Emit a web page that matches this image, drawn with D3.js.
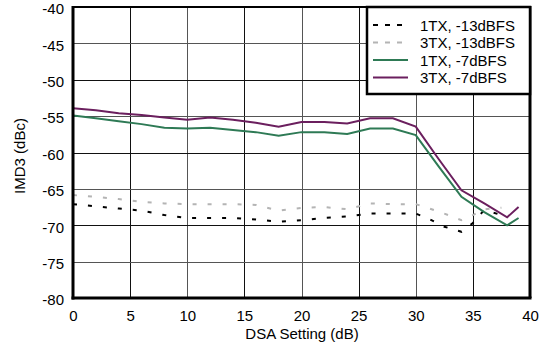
<!DOCTYPE html>
<html><head><meta charset="utf-8">
<script src="https://cdn.jsdelivr.net/npm/d3@7"></script>
<style>body{margin:0;background:#fff}svg text{font-family:"Liberation Sans",Arial,sans-serif}</style>
</head><body><svg id="c" width="543" height="347"></svg>
<script>
const xTicks = [0,5,10,15,20,25,30,35,40];
const yTicks = [-40,-45,-50,-55,-60,-65,-70,-75,-80];
const seriesNames = ["1TX, -13dBFS","3TX, -13dBFS","1TX, -7dBFS","3TX, -7dBFS"];
const xSolid = [0,2,4,6,8,10,12,14,16,18,20,22,24,26,28,30,32,34,36,38,39];
const tx3m7 = [-53.9,-54.2,-54.6,-54.85,-55.2,-55.5,-55.2,-55.5,-55.9,-56.45,-55.8,-55.8,-56.0,-55.3,-55.3,-56.45,-60.9,-65.2,-67.0,-68.9,-67.5];
const tx1m7 = [-54.9,-55.3,-55.7,-56.1,-56.6,-56.7,-56.6,-56.9,-57.2,-57.7,-57.2,-57.2,-57.45,-56.7,-56.7,-57.6,-61.9,-66.1,-68.2,-70.0,-69.0];
const xDash = [0,2,4,6,8,10,12,14,16,18,20,22,24,26,28,30,31,32.5,34,35,36,37.5];
const tx1m13 = [-67.1,-67.4,-67.7,-68.0,-68.6,-69.0,-69.0,-69.0,-69.2,-69.5,-69.3,-69.0,-68.8,-68.4,-68.4,-68.4,-69.0,-70.2,-70.9,-69.7,-67.9,-68.6];
const tx3m13 = [-65.85,-66.1,-66.4,-66.8,-67.0,-67.1,-67.1,-67.1,-67.2,-68.0,-67.6,-67.5,-67.8,-67.0,-67.1,-67.1,-67.6,-68.4,-69.3,-68.6,-67.8,-67.6];

const svg = d3.select("#c");
const L=73,R=530,T=7,B=298;
const x = d3.scaleLinear().domain([0,40]).range([L,R]);
const y = d3.scaleLinear().domain([-80,-40]).range([B,T]);
const FS = 15;

// grid
const g = svg.append("g");
g.selectAll(".vg").data(xTicks.slice(1,-1)).enter().append("line")
 .attr("x1",d=>Math.round(x(d))+0.5).attr("x2",d=>Math.round(x(d))+0.5).attr("y1",T).attr("y2",B)
 .attr("stroke",(d,i)=>i%2?"#555":"#111").attr("stroke-width",1);
g.selectAll(".hg").data(yTicks.slice(1,-1)).enter().append("line")
 .attr("y1",d=>Math.round(y(d))+0.5).attr("y2",d=>Math.round(y(d))+0.5).attr("x1",L).attr("x2",R)
 .attr("stroke",(d,i)=>i%2?"#111":"#555").attr("stroke-width",1);

// axes labels
const xa = d3.axisBottom(x).tickValues(xTicks).tickSize(0).tickPadding(12);
svg.append("g").attr("transform",`translate(0,${B})`).call(xa)
 .call(s=>{s.select(".domain").remove();s.selectAll("text").attr("font-size",FS).attr("fill","#000").style("font-family","Liberation Sans, Arial");});
const ya = d3.axisLeft(y).tickValues(yTicks).tickSize(0).tickPadding(9).tickFormat(d=>d);
svg.append("g").attr("transform",`translate(${L},0)`).call(ya)
 .call(s=>{s.select(".domain").remove();s.selectAll("text").attr("font-size",FS).attr("dy","0.45em").attr("fill","#000").style("font-family","Liberation Sans, Arial");});

svg.append("text").attr("x",302).attr("y",339).attr("text-anchor","middle").attr("font-size",FS).text("DSA Setting (dB)");
svg.append("text").attr("transform",`translate(25,156) rotate(-90)`).attr("text-anchor","middle").attr("font-size",FS).text("IMD3 (dBc)");

// lines
const line = (xs)=>d3.line().x((d,i)=>x(xs[i])).y(d=>y(d));
svg.append("clipPath").attr("id","pc").append("rect").attr("x",L).attr("y",T).attr("width",R-L).attr("height",B-T);
const pg = svg.append("g").attr("clip-path","url(#pc)");
pg.append("path").datum(tx3m13).attr("d",line(xDash)).attr("fill","none").attr("stroke","#b4b4b4").attr("stroke-width",2).attr("stroke-dasharray","4,11");
pg.append("path").datum(tx1m13).attr("d",line(xDash)).attr("fill","none").attr("stroke","#000").attr("stroke-width",2).attr("stroke-dasharray","4,11");
pg.append("path").datum(tx1m7).attr("d",line(xSolid)).attr("fill","none").attr("stroke","#2e7a55").attr("stroke-width",2);
pg.append("path").datum(tx3m7).attr("d",line(xSolid)).attr("fill","none").attr("stroke","#6b1f5e").attr("stroke-width",2);

// frame
svg.append("line").attr("x1",L).attr("x2",R+1).attr("y1",T).attr("y2",T).attr("stroke","#000").attr("stroke-width",2);
svg.append("line").attr("x1",L).attr("x2",L).attr("y1",T-1).attr("y2",B+1.5).attr("stroke","#000").attr("stroke-width",3);
svg.append("line").attr("x1",L-1.5).attr("x2",R+1.5).attr("y1",B).attr("y2",B).attr("stroke","#000").attr("stroke-width",3);
svg.append("line").attr("x1",R).attr("x2",R).attr("y1",T-1).attr("y2",B).attr("stroke","#000").attr("stroke-width",3);

// legend
const lg = svg.append("g");
lg.append("rect").attr("x",367).attr("y",7).attr("width",163).attr("height",87).attr("fill","#fff").attr("stroke","#000").attr("stroke-width",2.5);
const styles=[{c:"#000",d:"5,7"},{c:"#b4b4b4",d:"5,7"},{c:"#2e7a55",d:null},{c:"#6b1f5e",d:null}];
seriesNames.forEach((n,i)=>{
  const yy = 25+i*17.5;
  lg.append("line").attr("x1",373).attr("x2",408).attr("y1",yy).attr("y2",yy).attr("stroke",styles[i].c).attr("stroke-width",2).attr("stroke-dasharray",styles[i].d);
  lg.append("text").attr("x",420).attr("y",yy+5.5).attr("font-size",FS).text(n);
});
</script></body></html>
